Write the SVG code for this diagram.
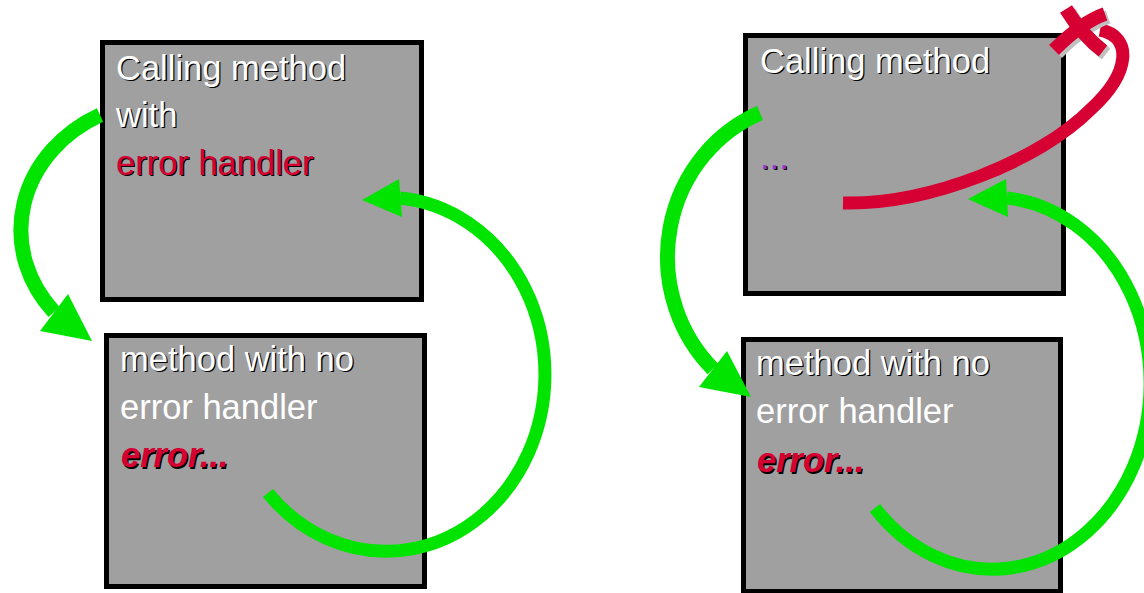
<svg xmlns="http://www.w3.org/2000/svg" width="1144" height="593" viewBox="0 0 1144 593">
<style>
.box{fill:#a0a0a0;stroke:#000;stroke-width:5}
.t{font-family:"Liberation Sans",Arial,sans-serif;font-size:34.5px}
.w{fill:#fff}
.r{fill:#d70032}
.p{fill:#9933cc}
.sh{fill:#000}
.bi{font-weight:bold;font-style:italic}
.g{fill:none;stroke:#00e400}
.gh{fill:#00e400}
.red{fill:none;stroke:#d70032;stroke-width:13}
</style>
<rect width="1144" height="593" fill="#fff"/>
<g id="calling-with-handler">
<rect class="box" x="102.5" y="42.5" width="319" height="257"/>
<text class="t sh" x="117.3" y="81.3">Calling method</text>
<text class="t w" x="116" y="80">Calling method</text>
<text class="t sh" x="117.3" y="128.3">with</text>
<text class="t w" x="116" y="127">with</text>
<text class="t sh" x="117.3" y="176.3">error handler</text>
<text class="t r" x="116" y="175">error handler</text>
</g>
<g id="method-no-handler-left">
<rect class="box" x="106.5" y="335.5" width="318" height="251"/>
<text class="t sh" x="121.3" y="372.3">method with no</text>
<text class="t w" x="120" y="371">method with no</text>
<text class="t w" x="120" y="419">error handler</text>
<text class="t sh bi" x="122.5" y="468.5">error...</text>
<text class="t r bi" x="121" y="467">error...</text>
</g>
<g id="calling-no-handler">
<rect class="box" x="745.5" y="35.5" width="318" height="258"/>
<text class="t sh" x="761.3" y="74.3">Calling method</text>
<text class="t w" x="760" y="73">Calling method</text>
<text class="t sh" x="761.3" y="169.8">...</text>
<text class="t p" x="760" y="168.5">...</text>
</g>
<g id="method-no-handler-right">
<rect class="box" x="743.5" y="339.5" width="317" height="252"/>
<text class="t sh" x="757.3" y="376.3">method with no</text>
<text class="t w" x="756" y="375">method with no</text>
<text class="t w" x="756" y="423">error handler</text>
<text class="t sh bi" x="758.5" y="473.5">error...</text>
<text class="t r bi" x="757" y="472">error...</text>
</g>
<g id="connectors">
<path class="g" stroke-width="15" d="M100,115 A148,130 0 0 0 54,312"/>
<polygon class="gh" points="40,331 68,294 92,341"/>
<path class="g" stroke-width="13" d="M268,493 A159,177 0 1 0 400,198"/>
<polygon class="gh" points="362,200 399,179 402,217"/>
<path class="g" stroke-width="15" d="M760,113 A150,156 0 0 0 713,369"/>
<polygon class="gh" points="699,387 727,351 751,397"/>
<path class="g" stroke-width="13" d="M875,508 A158,186 0 1 0 1007,198"/>
<polygon class="gh" points="968,199 1006,179 1008,217"/>
<path class="red" d="M843,203 C930,205 1040,160 1090,110 C1132,72 1132,36 1100,30"/>
<g stroke="#c0c0c0" stroke-width="14" fill="none">
<path d="M1069,12 Q1085,38 1106,54"/>
<path d="M1057,53 Q1085,25 1108,17"/>
</g>
<g stroke="#d70032" stroke-width="14" fill="none">
<path d="M1066,9 Q1082,35 1103,51"/>
<path d="M1054,50 Q1082,22 1105,14"/>
</g>
</g>
</svg>
